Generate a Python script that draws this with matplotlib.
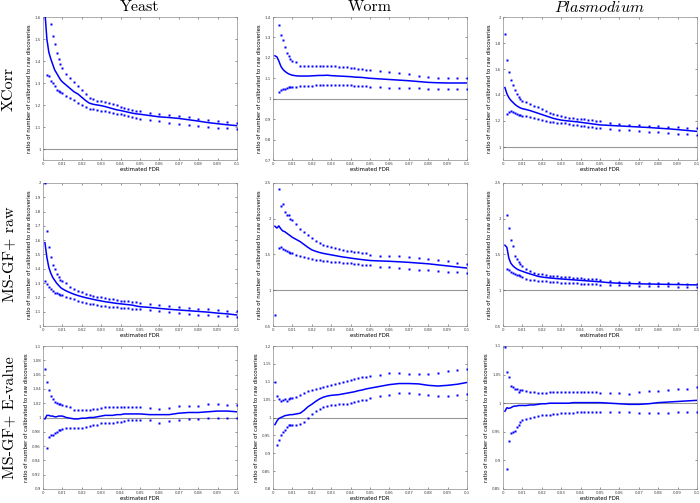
import numpy as np
import matplotlib
matplotlib.use("Agg")
import matplotlib.pyplot as plt
from matplotlib import ticker

nan = np.nan

# estimated FDR values where the curves were evaluated
FDR = [0.001, 0.002, 0.003, 0.004, 0.005, 0.006, 0.007, 0.008, 0.009, 0.010,
       0.012, 0.014, 0.016, 0.018, 0.020, 0.022, 0.024, 0.026, 0.028, 0.030,
       0.032, 0.034, 0.036, 0.038, 0.040, 0.042, 0.044, 0.046, 0.048, 0.050,
       0.055, 0.060, 0.065, 0.070, 0.075, 0.080, 0.085, 0.090, 0.095, 0.100]

SPECIES = ["Yeast", "Worm", "Plasmodium"]
SCORES = ["XCorr", "MS-GF+ raw", "MS-GF+ E-value"]

# ---- XCorr ----
yeast_xcorr_hi = [nan, nan, nan, 1.57, 1.513, 1.478, 1.436, 1.408, 1.387, 1.367,
                  1.342, 1.322, 1.303, 1.286, 1.27, 1.25, 1.231, 1.228, 1.22, 1.216,
                  1.213, 1.21, 1.204, 1.198, 1.193, 1.187, 1.183, 1.178, 1.175, 1.172,
                  1.165, 1.157, 1.154, 1.151, 1.145, 1.136, 1.13, 1.127, 1.123, 1.12]
yeast_xcorr_lo = [nan, 1.336, 1.334, 1.31, 1.3, 1.285, 1.27, 1.262, 1.258, 1.253,
                  1.243, 1.232, 1.222, 1.207, 1.198, 1.19, 1.183, 1.18, 1.177, 1.175,
                  1.172, 1.168, 1.165, 1.16, 1.157, 1.153, 1.15, 1.146, 1.142, 1.138,
                  1.13, 1.127, 1.12, 1.115, 1.11, 1.105, 1.1, 1.096, 1.094, 1.09]
yeast_xcorr_mid = [1.62, 1.5, 1.44, 1.41, 1.385, 1.36, 1.345, 1.33, 1.315, 1.305,
                   1.29, 1.275, 1.26, 1.25, 1.235, 1.22, 1.208, 1.203, 1.2, 1.197,
                   1.193, 1.188, 1.183, 1.178, 1.175, 1.171, 1.167, 1.163, 1.16, 1.158,
                   1.152, 1.146, 1.143, 1.139, 1.133, 1.127, 1.12, 1.115, 1.11, 1.106]

worm_xcorr_hi = [nan, nan, 1.362, 1.31, 1.285, 1.252, 1.226, 1.207, 1.194, 1.186,
                 1.178, 1.16, 1.158, 1.158, 1.158, 1.159, 1.158, 1.158, 1.158, 1.16,
                 1.158, 1.157, 1.155, 1.153, 1.15, 1.148, 1.146, 1.144, 1.142, 1.14,
                 1.134, 1.129, 1.125, 1.119, 1.112, 1.107, 1.103, 1.1, 1.1, 1.1]
worm_xcorr_lo = [nan, nan, 1.033, 1.041, 1.047, 1.05, 1.054, 1.057, 1.057, 1.057,
                 1.058, 1.06, 1.062, 1.063, 1.064, 1.065, 1.066, 1.067, 1.068, 1.068,
                 1.068, 1.067, 1.066, 1.066, 1.065, 1.064, 1.063, 1.062, 1.06, 1.059,
                 1.057, 1.054, 1.053, 1.052, 1.051, 1.05, 1.05, 1.049, 1.048, 1.046]
worm_xcorr_mid = [1.21, 1.205, 1.185, 1.16, 1.145, 1.135, 1.128, 1.122, 1.118, 1.115,
                  1.112, 1.111, 1.111, 1.111, 1.112, 1.113, 1.114, 1.114, 1.115, 1.113,
                  1.112, 1.111, 1.11, 1.109, 1.108, 1.106, 1.105, 1.104, 1.102, 1.1,
                  1.097, 1.094, 1.091, 1.088, 1.084, 1.08, 1.078, 1.077, 1.077, 1.077]

plas_xcorr_hi = [1.867, 1.668, 1.577, 1.518, 1.48, 1.439, 1.406, 1.388, 1.367, 1.357,
                 1.35, 1.33, 1.318, 1.305, 1.29, 1.278, 1.265, 1.255, 1.245, 1.235,
                 1.23, 1.226, 1.222, 1.219, 1.215, 1.212, 1.209, 1.205, 1.202, 1.2,
                 1.186, 1.179, 1.172, 1.168, 1.163, 1.16, 1.156, 1.152, 1.148, 1.143]
plas_xcorr_lo = [nan, 1.255, 1.273, 1.275, 1.268, 1.258, 1.253, 1.25, 1.247, 1.242,
                 1.235, 1.228, 1.22, 1.212, 1.205, 1.2, 1.196, 1.192, 1.188, 1.185,
                 1.181, 1.177, 1.173, 1.169, 1.165, 1.161, 1.157, 1.153, 1.149, 1.145,
                 1.14, 1.132, 1.128, 1.122, 1.118, 1.112, 1.108, 1.102, 1.098, 1.094]
plas_xcorr_mid = [1.457, 1.41, 1.38, 1.36, 1.345, 1.33, 1.318, 1.308, 1.3, 1.295,
                  1.288, 1.28, 1.27, 1.26, 1.25, 1.24, 1.23, 1.22, 1.213, 1.207,
                  1.203, 1.2, 1.197, 1.194, 1.19, 1.186, 1.182, 1.178, 1.174, 1.17,
                  1.166, 1.162, 1.158, 1.154, 1.15, 1.145, 1.14, 1.134, 1.127, 1.12]

# ---- MS-GF+ raw ----
yeast_raw_hi = [2.0, 1.663, 1.555, 1.48, 1.43, 1.396, 1.363, 1.34, 1.323, 1.318,
                1.3, 1.275, 1.26, 1.245, 1.235, 1.225, 1.218, 1.212, 1.206, 1.2,
                1.195, 1.19, 1.186, 1.182, 1.178, 1.175, 1.172, 1.169, 1.166, 1.164,
                1.155, 1.148, 1.14, 1.132, 1.128, 1.122, 1.118, 1.113, 1.106, 1.103]
yeast_raw_lo = [1.316, 1.293, 1.274, 1.262, 1.248, 1.234, 1.23, 1.225, 1.22, 1.215,
                1.205, 1.195, 1.187, 1.178, 1.17, 1.163, 1.157, 1.151, 1.146, 1.142,
                1.139, 1.136, 1.133, 1.13, 1.128, 1.126, 1.124, 1.122, 1.12, 1.117,
                1.11, 1.102, 1.095, 1.09, 1.085, 1.08, 1.076, 1.072, 1.068, 1.063]
yeast_raw_mid = [1.583, 1.48, 1.41, 1.37, 1.34, 1.32, 1.3, 1.285, 1.27, 1.26,
                 1.245, 1.233, 1.222, 1.213, 1.205, 1.198, 1.192, 1.186, 1.18, 1.175,
                 1.17, 1.166, 1.162, 1.158, 1.155, 1.152, 1.149, 1.146, 1.14, 1.135,
                 1.13, 1.123, 1.117, 1.112, 1.107, 1.102, 1.097, 1.09, 1.085, 1.077]

worm_raw_hi = [nan, nan, 2.416, 2.184, 2.2, 2.09, 2.053, 2.053, 1.99, 1.98,
               1.923, 1.858, 1.82, 1.774, 1.733, 1.695, 1.658, 1.635, 1.616, 1.602,
               1.588, 1.574, 1.56, 1.551, 1.542, 1.533, 1.528, 1.523, 1.514, 1.495,
               1.486, 1.486, 1.476, 1.468, 1.455, 1.44, 1.425, 1.41, 1.385, 1.365]
worm_raw_lo = [0.65, nan, 1.588, 1.61, 1.58, 1.56, 1.542, 1.533, 1.523, 1.514,
               1.49, 1.475, 1.46, 1.45, 1.44, 1.43, 1.42, 1.41, 1.405, 1.4,
               1.395, 1.39, 1.385, 1.38, 1.375, 1.37, 1.365, 1.36, 1.355, 1.35,
               1.33, 1.32, 1.305, 1.3, 1.29, 1.28, 1.27, 1.26, 1.255, 1.245]
worm_raw_mid = [1.895, 1.87, 1.9, 1.86, 1.83, 1.82, 1.8, 1.78, 1.76, 1.74,
                1.71, 1.68, 1.64, 1.6, 1.565, 1.545, 1.528, 1.515, 1.505, 1.495,
                1.485, 1.475, 1.465, 1.458, 1.45, 1.442, 1.435, 1.428, 1.422, 1.416,
                1.41, 1.405, 1.398, 1.39, 1.38, 1.37, 1.355, 1.34, 1.325, 1.31]

plas_raw_hi = [nan, 2.053, 1.877, 1.705, 1.616, 1.48, 1.44, 1.393, 1.37, 1.342,
               1.3, 1.263, 1.244, 1.23, 1.221, 1.212, 1.205, 1.2, 1.195, 1.19,
               1.185, 1.18, 1.176, 1.172, 1.168, 1.164, 1.16, 1.157, 1.154, 1.15,
               1.13, 1.12, 1.115, 1.11, 1.106, 1.103, 1.1, 1.097, 1.094, 1.09]
plas_raw_lo = [nan, 1.3, 1.28, 1.258, 1.24, 1.226, 1.216, 1.207, 1.193, 1.18,
               1.16, 1.15, 1.14, 1.135, 1.13, 1.125, 1.12, 1.115, 1.11, 1.105,
               1.102, 1.1, 1.097, 1.095, 1.092, 1.09, 1.087, 1.085, 1.082, 1.08,
               1.075, 1.07, 1.068, 1.065, 1.062, 1.06, 1.055, 1.052, 1.05, 1.045]
plas_raw_mid = [1.63, 1.6, 1.45, 1.38, 1.345, 1.32, 1.3, 1.285, 1.275, 1.265,
                1.245, 1.228, 1.212, 1.195, 1.185, 1.178, 1.172, 1.167, 1.162, 1.158,
                1.154, 1.15, 1.146, 1.142, 1.138, 1.134, 1.13, 1.126, 1.122, 1.118,
                1.105, 1.098, 1.094, 1.09, 1.087, 1.085, 1.082, 1.08, 1.077, 1.075]

# ---- MS-GF+ E-value ----
yeast_ev_hi = [1.068, 1.05, 1.039, 1.03, 1.026, 1.021, 1.02, 1.019, 1.019, 1.018,
               1.016, 1.014, 1.011, 1.011, 1.011, 1.01, 1.011, 1.012, 1.012, 1.013,
               1.014, 1.014, 1.014, 1.014, 1.014, 1.015, 1.015, 1.015, 1.015, 1.015,
               1.013, 1.012, 1.013, 1.016, 1.016, 1.016, 1.019, 1.019, 1.018, 1.018]
yeast_ev_lo = [nan, 0.957, 0.973, 0.975, 0.976, 0.978, 0.98, 0.982, 0.983, 0.984,
               0.986, 0.986, 0.985, 0.986, 0.986, 0.987, 0.988, 0.989, 0.99, 0.992,
               0.993, 0.993, 0.993, 0.994, 0.994, 0.995, 0.996, 0.996, 0.997, 0.997,
               0.996, 0.993, 0.995, 0.996, 0.998, 0.998, 0.999, 1.0, 1.0, 1.0]
yeast_ev_mid = [0.998, 1.003, 1.003, 1.002, 1.002, 1.001, 1.001, 1.002, 1.002, 1.002,
                1.0, 0.999, 0.998, 0.998, 0.999, 0.999, 1.0, 1.0, 1.001, 1.002,
                1.003, 1.003, 1.003, 1.004, 1.004, 1.005, 1.005, 1.005, 1.005, 1.005,
                1.004, 1.004, 1.004, 1.006, 1.007, 1.007, 1.008, 1.009, 1.009, 1.008]

worm_ev_hi = [1.098, 1.059, 1.051, 1.045, 1.048, 1.052, 1.045, 1.051, 1.054, 1.055,
              1.058, 1.063, 1.068, 1.073, 1.078, 1.08, 1.083, 1.085, 1.088, 1.09,
              1.093, 1.096, 1.099, 1.102, 1.104, 1.107, 1.11, 1.112, 1.114, 1.116,
              1.12, 1.124, 1.124, 1.123, 1.122, 1.122, 1.125, 1.13, 1.132, 1.136]
worm_ev_lo = [nan, 0.922, 0.936, 0.95, 0.959, 0.966, 0.973, 0.978, 0.978, 0.978,
              0.979, 0.982, 0.987, 1.0, 1.01, 1.018, 1.024, 1.028, 1.032, 1.035,
              1.036, 1.037, 1.038, 1.039, 1.04, 1.042, 1.045, 1.048, 1.05, 1.055,
              1.059, 1.064, 1.068, 1.068, 1.066, 1.062, 1.061, 1.06, 1.063, 1.066]
worm_ev_mid = [0.98, 0.99, 0.997, 1.0, 1.002, 1.005, 1.006, 1.007, 1.008, 1.008,
               1.01, 1.012, 1.02, 1.03, 1.037, 1.045, 1.052, 1.057, 1.06, 1.062,
               1.063, 1.064, 1.066, 1.068, 1.07, 1.072, 1.075, 1.077, 1.08, 1.082,
               1.087, 1.092, 1.095, 1.095, 1.094, 1.09, 1.088, 1.09, 1.093, 1.098]

plas_ev_hi = [1.099, 1.055, 1.045, 1.03, 1.028, 1.024, 1.024, 1.02, 1.023, 1.023,
              1.022, 1.02, 1.019, 1.017, 1.018, 1.018, 1.019, 1.019, 1.019, 1.019,
              1.019, 1.02, 1.02, 1.02, 1.02, 1.02, 1.02, 1.019, 1.019, 1.018,
              1.018, 1.018, 1.016, 1.019, 1.021, 1.022, 1.023, 1.024, 1.025, 1.028]
plas_ev_lo = [nan, 0.885, 0.934, 0.948, 0.949, 0.952, 0.958, 0.962, 0.968, 0.97,
              0.972, 0.974, 0.975, 0.977, 0.979, 0.98, 0.98, 0.981, 0.981, 0.982,
              0.982, 0.983, 0.983, 0.984, 0.984, 0.984, 0.985, 0.985, 0.985, 0.985,
              0.985, 0.984, 0.984, 0.983, 0.983, 0.983, 0.983, 0.984, 0.985, 0.985]
plas_ev_mid = [0.986, 0.992, 0.991, 0.992, 0.994, 0.995, 0.995, 0.996, 0.996, 0.996,
               0.996, 0.997, 0.997, 0.998, 0.999, 0.999, 1.0, 1.0, 1.0, 1.0,
               1.0, 1.0, 1.001, 1.001, 1.001, 1.001, 1.001, 1.001, 1.001, 1.001,
               1.0, 0.999, 0.998, 0.998, 0.999, 1.001, 1.002, 1.003, 1.004, 1.005]

# y-axis ranges and tick spacing, row by row
YLIMS = [[(0.95, 1.6), (0.7, 1.4), (0.9, 2.0)],
         [(1.0, 2.0), (0.5, 2.5), (0.5, 2.5)],
         [(0.9, 1.1), (0.8, 1.2), (0.85, 1.1)]]
YSTEPS = [[0.1, 0.1, 0.2],
          [0.1, 0.5, 0.5],
          [0.02, 0.05, 0.05]]

PANELS = [[(yeast_xcorr_hi, yeast_xcorr_lo, yeast_xcorr_mid),
           (worm_xcorr_hi, worm_xcorr_lo, worm_xcorr_mid),
           (plas_xcorr_hi, plas_xcorr_lo, plas_xcorr_mid)],
          [(yeast_raw_hi, yeast_raw_lo, yeast_raw_mid),
           (worm_raw_hi, worm_raw_lo, worm_raw_mid),
           (plas_raw_hi, plas_raw_lo, plas_raw_mid)],
          [(yeast_ev_hi, yeast_ev_lo, yeast_ev_mid),
           (worm_ev_hi, worm_ev_lo, worm_ev_mid),
           (plas_ev_hi, plas_ev_lo, plas_ev_mid)]]

plt.rcParams["mathtext.fontset"] = "cm"
W, H = 700, 503
fig = plt.figure(figsize=(W / 100, H / 100), dpi=100)

lefts = [43, 273, 503]
tops = [17, 183, 346]
aw, ah = 194, 143
fmt = ticker.FuncFormatter(lambda v, p: f"{v:g}")

for r in range(3):
    for c in range(3):
        ax = fig.add_axes([lefts[c] / W, 1 - (tops[r] + ah) / H, aw / W, ah / H])
        hi, lo, mid = PANELS[r][c]
        ax.axhline(1, color="0.6", lw=0.8, zorder=1)
        ax.plot(FDR, mid, color="b", lw=1.1, zorder=3)
        ax.plot(FDR, hi, "s", color="b", ms=1.6, mec="none", zorder=3)
        ax.plot(FDR, lo, "s", color="b", ms=1.6, mec="none", zorder=3)
        ax.set_xlim(0, 0.1)
        ax.set_ylim(*YLIMS[r][c])
        ax.xaxis.set_major_locator(ticker.MultipleLocator(0.01))
        ax.yaxis.set_major_locator(ticker.MultipleLocator(YSTEPS[r][c]))
        ax.xaxis.set_major_formatter(fmt)
        ax.yaxis.set_major_formatter(fmt)
        ax.tick_params(labelsize=2.9, length=1.5, width=0.4, direction="in",
                       top=True, right=True, pad=1.5, colors="0.25")
        for s in ax.spines.values():
            s.set_linewidth(0.5)
            s.set_color("0.55")
        ax.set_xlabel("estimated FDR", fontsize=3.9, labelpad=0.8)
        ax.set_ylabel("ratio of number of calibrated to raw discoveries",
                      fontsize=3.9, labelpad=2)

# column titles
for c, name in enumerate(SPECIES):
    txt = r"$\mathit{%s}$" % name if name == "Plasmodium" else name
    fam = "DejaVu Sans" if name == "Plasmodium" else "cmr10"
    fig.text((lefts[c] + aw / 2) / W, 1 - 7 / H, txt, ha="center", va="center",
             fontsize=11.5, family=fam)

# row labels
for r, name in enumerate(SCORES):
    fig.text(9 / W, 1 - (tops[r] + ah / 2) / H, name, rotation=90,
             ha="center", va="center", fontsize=11.5, family="cmr10")

fig.savefig("out.png", dpi=100)
